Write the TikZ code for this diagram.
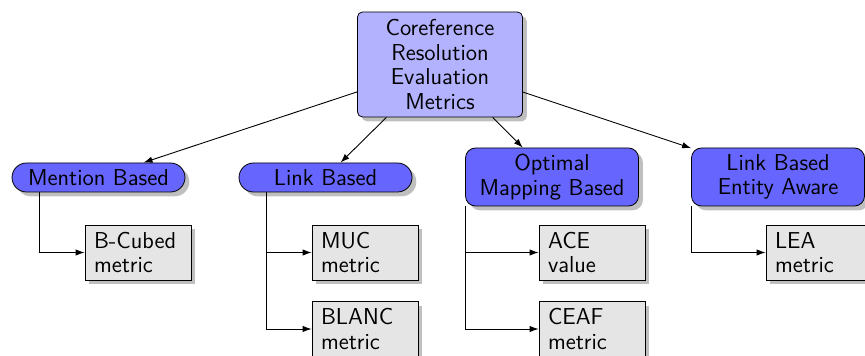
\documentclass[tikz,border=0pt]{standalone}
\usetikzlibrary{shadows,arrows.meta}
\begin{document}
\begin{tikzpicture}[x=0.5pt,y=-0.5pt,
  every node/.style={font=\sffamily\fontsize{11.5}{12.35}\selectfont},
  rootbox/.style={draw, fill=blue!30, rounded corners=2.5pt, drop shadow,
    minimum width=82.5pt, minimum height=52.5pt, align=center, inner sep=1pt},
  pillbox/.style={draw, fill=blue!60, rounded corners=7.25pt, drop shadow,
    minimum width=86.5pt, minimum height=14.5pt, inner sep=1pt},
  catbox/.style={draw, fill=blue!60, rounded corners=5pt, drop shadow,
    minimum width=86.5pt, minimum height=29pt, align=center, inner sep=1pt},
  leafbox/.style={draw, fill=gray!20, drop shadow, text width=44pt, align=left,
    inner xsep=4.5pt, inner ysep=1pt, minimum height=27.5pt},
  conn/.style={-{Latex[length=4.5pt,width=3.2pt]}, line width=0.45pt}
]
\useasboundingbox (0,0) rectangle (865,356);

\node[rootbox] (root) at (440,64.5) {Coreference\\Resolution\\Evaluation\\Metrics};

\node[pillbox] (mb) at (98.5,177.5) {Mention Based};
\node[pillbox] (lb) at (325.5,177.5) {Link Based};
\node[catbox] (omb) at (552,177) {Optimal\\Mapping Based};
\node[catbox] (lbea) at (778,177) {Link Based\\Entity Aware};

\node[leafbox] (bc) at (138,252.5) {B-Cubed\\metric};
\node[leafbox] (muc) at (365,252.5) {MUC\\metric};
\node[leafbox] (blanc) at (365,329) {BLANC\\metric};
\node[leafbox] (ace) at (592,252.5) {ACE\\value};
\node[leafbox] (ceaf) at (592,329) {CEAF\\metric};
\node[leafbox] (lea) at (819,252.5) {LEA\\metric};

\draw[conn] (root) -- (mb);
\draw[conn] (root) -- (lb);
\draw[conn] (root) -- (omb);
\draw[conn] (root) -- (lbea);

\coordinate (mbs) at ([xshift=14pt]mb.south west);
\coordinate (lbs) at ([xshift=14pt]lb.south west);
\draw[conn] (mbs) |- (bc.west);
\draw[conn] (lbs) |- (muc.west);
\draw[conn] (lbs) |- (blanc.west);
\draw[conn] (omb.south west) |- (ace.west);
\draw[conn] (omb.south west) |- (ceaf.west);
\draw[conn] (lbea.south west) |- (lea.west);
\end{tikzpicture}
\end{document}
